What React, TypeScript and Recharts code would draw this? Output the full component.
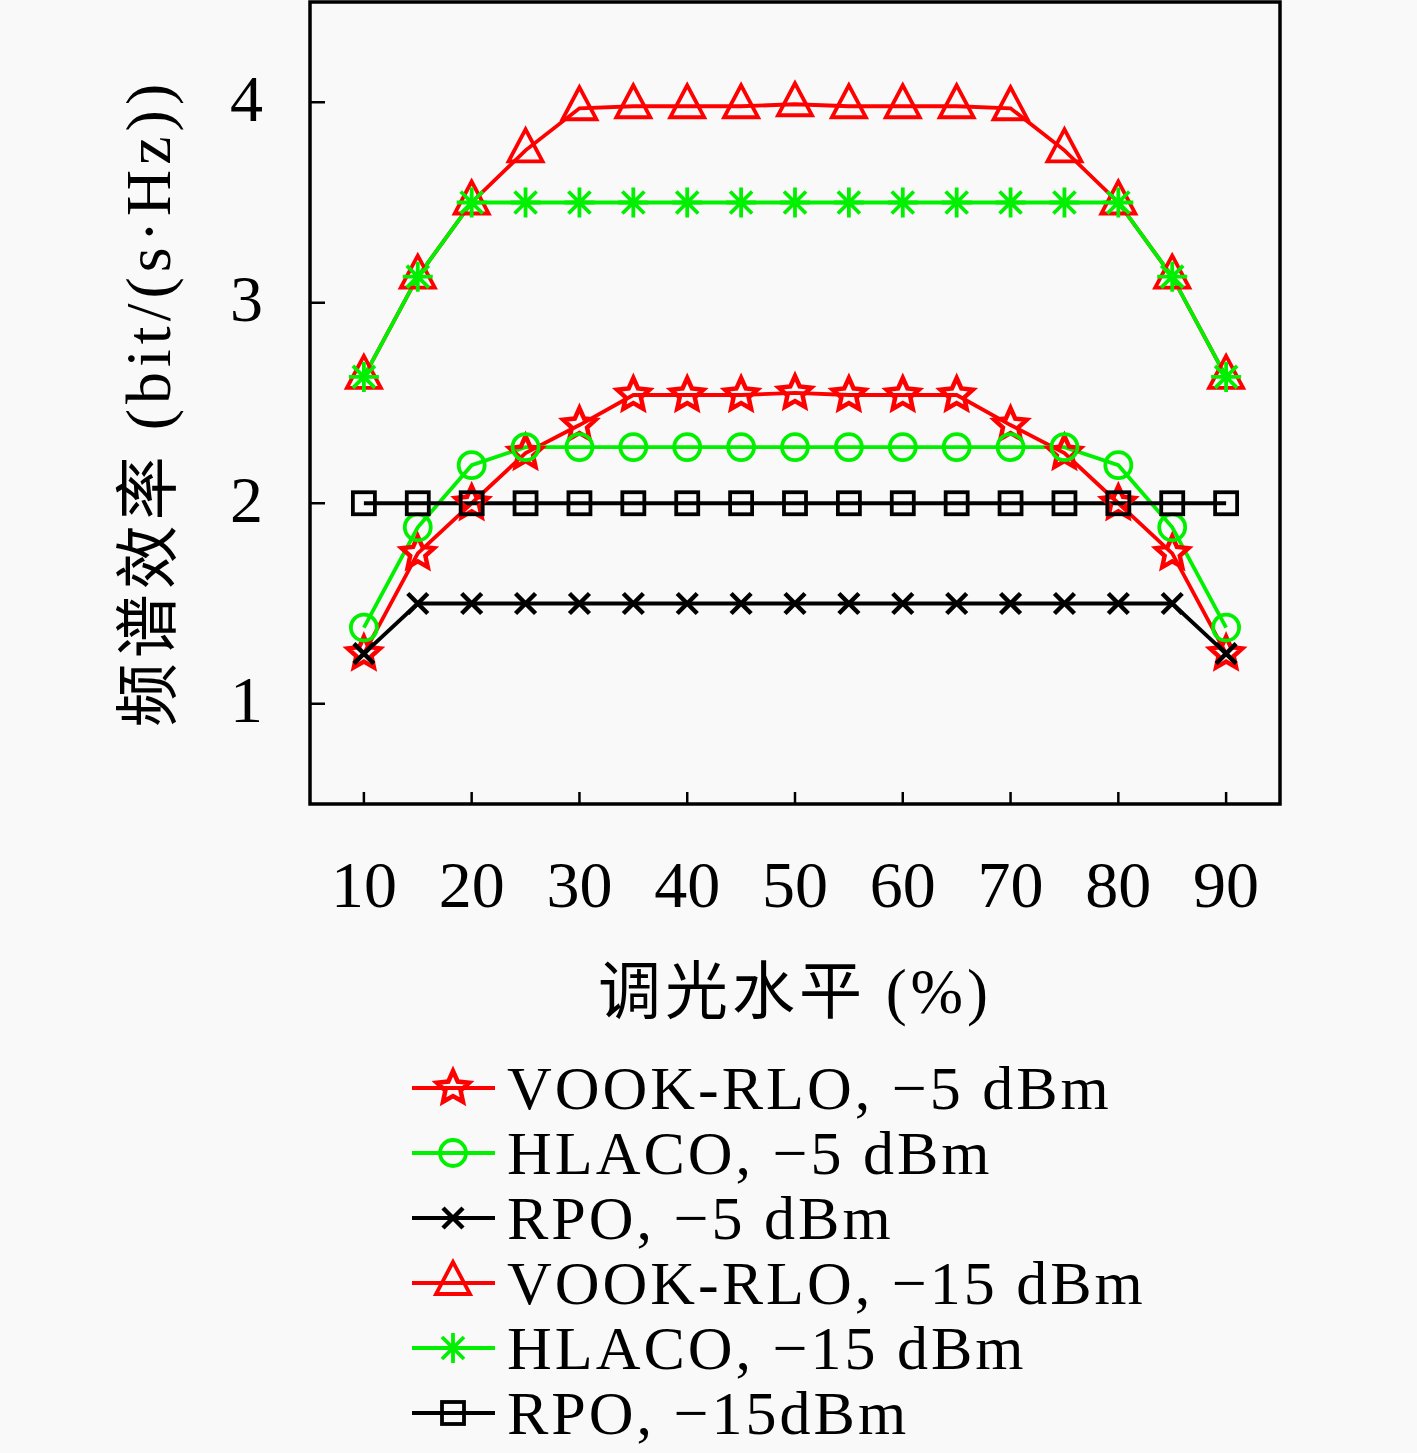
import React from 'react';
import { LineChart, Line, XAxis, YAxis, ReferenceArea, Legend, Label } from 'recharts';

const levels = [10, 15, 20, 25, 30, 35, 40, 45, 50, 55, 60, 65, 70, 75, 80, 85, 90];
const vookM5 = [1.25, 1.75, 2.0, 2.25, 2.39, 2.54, 2.54, 2.54, 2.55, 2.54, 2.54, 2.54, 2.39, 2.25, 2.0, 1.75, 1.25];
const hlacoM5 = [1.38, 1.88, 2.19, 2.28, 2.28, 2.28, 2.28, 2.28, 2.28, 2.28, 2.28, 2.28, 2.28, 2.28, 2.19, 1.88, 1.38];
const rpoM5 = [1.25, 1.5, 1.5, 1.5, 1.5, 1.5, 1.5, 1.5, 1.5, 1.5, 1.5, 1.5, 1.5, 1.5, 1.5, 1.5, 1.25];
const vookM15 = [2.63, 3.13, 3.5, 3.76, 3.97, 3.98, 3.98, 3.98, 3.99, 3.98, 3.98, 3.98, 3.97, 3.76, 3.5, 3.13, 2.63];
const hlacoM15 = [2.63, 3.13, 3.5, 3.5, 3.5, 3.5, 3.5, 3.5, 3.5, 3.5, 3.5, 3.5, 3.5, 3.5, 3.5, 3.13, 2.63];
const rpoM15 = [2, 2, 2, 2, 2, 2, 2, 2, 2, 2, 2, 2, 2, 2, 2, 2, 2];

const xTicks = [10, 20, 30, 40, 50, 60, 70, 80, 90];
const yTicks = [1, 2, 3, 4];

const series = [
  { key: 'vookM5', name: 'VOOK-RLO, −5 dBm', color: '#ff0000', marker: 'star', values: vookM5 },
  { key: 'hlacoM5', name: 'HLACO, −5 dBm', color: '#00f000', marker: 'circle', values: hlacoM5 },
  { key: 'rpoM5', name: 'RPO, −5 dBm', color: '#000000', marker: 'cross', values: rpoM5 },
  { key: 'vookM15', name: 'VOOK-RLO, −15 dBm', color: '#ff0000', marker: 'triangle', values: vookM15 },
  { key: 'hlacoM15', name: 'HLACO, −15 dBm', color: '#00f000', marker: 'asterisk', values: hlacoM15 },
  { key: 'rpoM15', name: 'RPO, −15dBm', color: '#000000', marker: 'square', values: rpoM15 },
];

const data = levels.map((x, i) => {
  const row: Record<string, number> = { x };
  series.forEach((s) => {
    row[s.key] = s.values[i];
  });
  return row;
});

const SERIF = '"Liberation Serif", "DejaVu Serif", serif';
const MIXED = '"Liberation Serif", "Noto Sans CJK SC", serif';

function Marker({ type, cx, cy, color }: { type: string; cx: number; cy: number; color: string }) {
  const sw = 3.8;
  if (type === 'star') {
    const pts: string[] = [];
    for (let k = 0; k < 10; k++) {
      const r = k % 2 === 0 ? 17 : 8;
      const a = -Math.PI / 2 + (k * Math.PI) / 5;
      pts.push(`${cx + r * Math.cos(a)},${cy + r * Math.sin(a)}`);
    }
    return <polygon points={pts.join(' ')} fill="none" stroke={color} strokeWidth={4.5} />;
  }
  if (type === 'circle') {
    return <circle cx={cx} cy={cy} r={13} fill="none" stroke={color} strokeWidth={sw} />;
  }
  if (type === 'cross') {
    const d = 10;
    return (
      <path d={`M${cx - d},${cy - d}L${cx + d},${cy + d}M${cx - d},${cy + d}L${cx + d},${cy - d}`} stroke={color} strokeWidth={4.5} />
    );
  }
  if (type === 'triangle') {
    return (
      <polygon
        points={`${cx},${cy - 21} ${cx - 17},${cy + 11} ${cx + 17},${cy + 11}`}
        fill="none"
        stroke={color}
        strokeWidth={sw}
      />
    );
  }
  if (type === 'asterisk') {
    const d = 15;
    const e = 11;
    return (
      <path
        d={`M${cx},${cy - d}L${cx},${cy + d}M${cx - d},${cy}L${cx + d},${cy}M${cx - e},${cy - e}L${cx + e},${cy + e}M${cx - e},${cy + e}L${cx + e},${cy - e}`}
        stroke={color}
        strokeWidth={sw}
      />
    );
  }
  return <rect x={cx - 11} y={cy - 11} width={22} height={22} fill="none" stroke={color} strokeWidth={sw} />;
}

function LegendBox() {
  return (
    <svg width={1417} height={418} style={{ display: 'block' }}>
      {series.map((s, i) => {
        const y = 58 + i * 65;
        return (
          <g key={s.key}>
            <line x1={412} x2={495} y1={y} y2={y} stroke={s.color} strokeWidth={3.8} />
            <Marker type={s.marker} cx={453} cy={y} color={s.color} />
            <text x={507} y={y + 21} fontFamily={SERIF} fontSize={62} letterSpacing={3} fill="#000">
              {s.name}
            </text>
          </g>
        );
      })}
    </svg>
  );
}

export default function App() {
  return (
    <div style={{ position: 'absolute', left: 0, top: 0, width: 1417, height: 1453, background: '#f9f9f9' }}>
      <LineChart width={1417} height={1453} data={data} margin={{ top: 2, right: 137, left: 210, bottom: 549 }}>
        <XAxis
          dataKey="x"
          type="number"
          domain={[5, 95]}
          ticks={xTicks}
          axisLine={false}
          tickSize={-12}
          tickMargin={68}
          height={100}
          tickLine={{ stroke: '#000', strokeWidth: 2.5 }}
          tick={{ fontSize: 66, fontFamily: SERIF, fill: '#000' }}
        >
          <Label
            content={({ viewBox }: any) => (
              <text
                x={viewBox.x + viewBox.width / 2}
                y={viewBox.y + 209}
                textAnchor="middle"
                fontFamily={MIXED}
                fontSize={63}
                letterSpacing={4}
                fill="#000"
              >
                调光水平 (%)
              </text>
            )}
          />
        </XAxis>
        <YAxis
          type="number"
          domain={[0.5, 4.5]}
          ticks={yTicks}
          axisLine={false}
          tickSize={-15}
          tickMargin={62}
          width={100}
          tickLine={{ stroke: '#000', strokeWidth: 2.5 }}
          tick={{ fontSize: 66, fontFamily: SERIF, fill: '#000', dy: -5 }}
        >
          <Label
            content={({ viewBox }: any) => {
              const cx = viewBox.x + viewBox.width - 162;
              const cy = viewBox.y + viewBox.height / 2;
              return (
                <text
                  x={cx}
                  y={cy}
                  transform={`rotate(-90 ${cx} ${cy})`}
                  textAnchor="middle"
                  dominantBaseline="central"
                  fontFamily={MIXED}
                  fontSize={64}
                  letterSpacing={5}
                  fill="#000"
                >
                  频谱效率 (bit/(s·Hz))
                </text>
              );
            }}
          />
        </YAxis>
        <ReferenceArea x1={5} x2={95} y1={0.5} y2={4.5} fill="none" stroke="#000" strokeWidth={3.5} ifOverflow="visible" />
        {series.map((s) => (
          <Line
            key={s.key}
            dataKey={s.key}
            name={s.name}
            stroke={s.color}
            strokeWidth={3.8}
            isAnimationActive={false}
            dot={(p: any) => <Marker key={`${s.key}-${p.index}`} type={s.marker} cx={p.cx} cy={p.cy} color={s.color} />}
            activeDot={false}
          />
        ))}
        <Legend
          layout="horizontal"
          verticalAlign="middle"
          align="center"
          wrapperStyle={{ position: 'absolute', left: 0, top: 1030, width: 1417, height: 418 }}
          content={() => <LegendBox />}
        />
      </LineChart>
    </div>
  );
}
